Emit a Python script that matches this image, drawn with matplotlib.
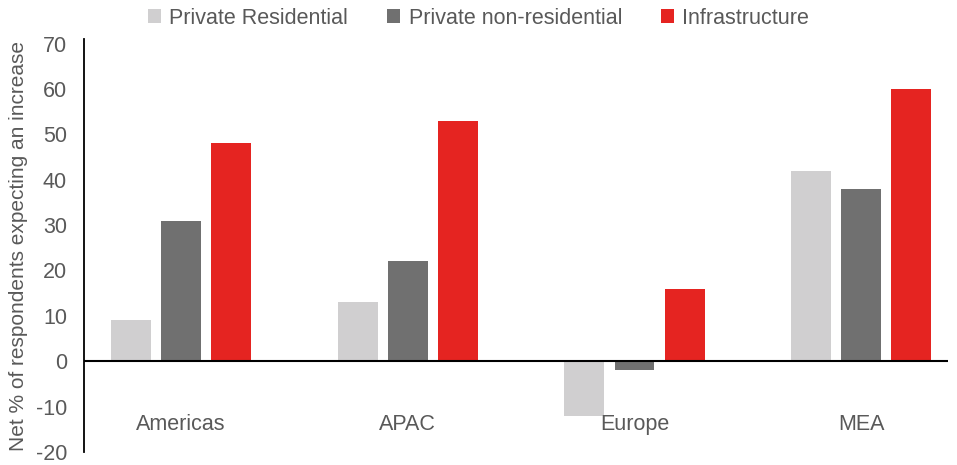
import matplotlib
matplotlib.use("Agg")
import matplotlib.pyplot as plt
import numpy as np
from matplotlib.patches import Patch

plt.rcParams['font.family'] = ['Liberation Sans', 'DejaVu Sans']
plt.rcParams['axes.unicode_minus'] = False

regions = ["Americas", "APAC", "Europe", "MEA"]
series_names = ["Private Residential", "Private non-residential", "Infrastructure"]
private_residential = [9, 13, -12, 42]
private_non_residential = [31, 22, -2, 38]
infrastructure = [48, 53, 16, 60]
yticks = [-20, -10, 0, 10, 20, 30, 40, 50, 60, 70]

colors = ["#D0CFD0", "#707070", "#E52421"]
text_color = "#595959"

fig = plt.figure(figsize=(9.57, 4.65), dpi=100)
ax = fig.add_axes([0.0873, 0.028, 0.9033, 0.888])

x = np.arange(len(regions))
width = 0.176
offset = 0.221
for i, (vals, c) in enumerate(zip([private_residential, private_non_residential, infrastructure], colors)):
    ax.bar(x + (i - 1) * offset, vals, width, color=c, zorder=2)

ax.set_xlim(-0.43, 3.383)
ax.set_ylim(-20, 71)
ax.set_yticks(yticks)
ax.tick_params(axis='y', length=0, pad=12, labelsize=15.5, labelcolor=text_color)
ax.set_xticks([])

for s in ["top", "right", "bottom"]:
    ax.spines[s].set_visible(False)
ax.spines["left"].set_color("black")
ax.spines["left"].set_linewidth(1.3)
ax.axhline(0, color="black", linewidth=1.5, zorder=3)

for xi, name in zip(x, regions):
    ax.text(xi, -14, name, ha="center", va="center", fontsize=15.5, color=text_color)

fig.text(0.019, 0.47, "Net % of respondents expecting an increase", rotation=90,
         ha="center", va="center", fontsize=15, color=text_color)

handles = [Patch(facecolor=c, edgecolor="none") for c in colors]
fig.legend(handles, series_names, loc="upper center", bbox_to_anchor=(0.5, 1.025),
           ncol=3, frameon=False, fontsize=15.5, labelcolor=text_color,
           handlelength=0.6, handleheight=0.6, handletextpad=0.4, columnspacing=1.8)

fig.savefig("out.png", dpi=100)
